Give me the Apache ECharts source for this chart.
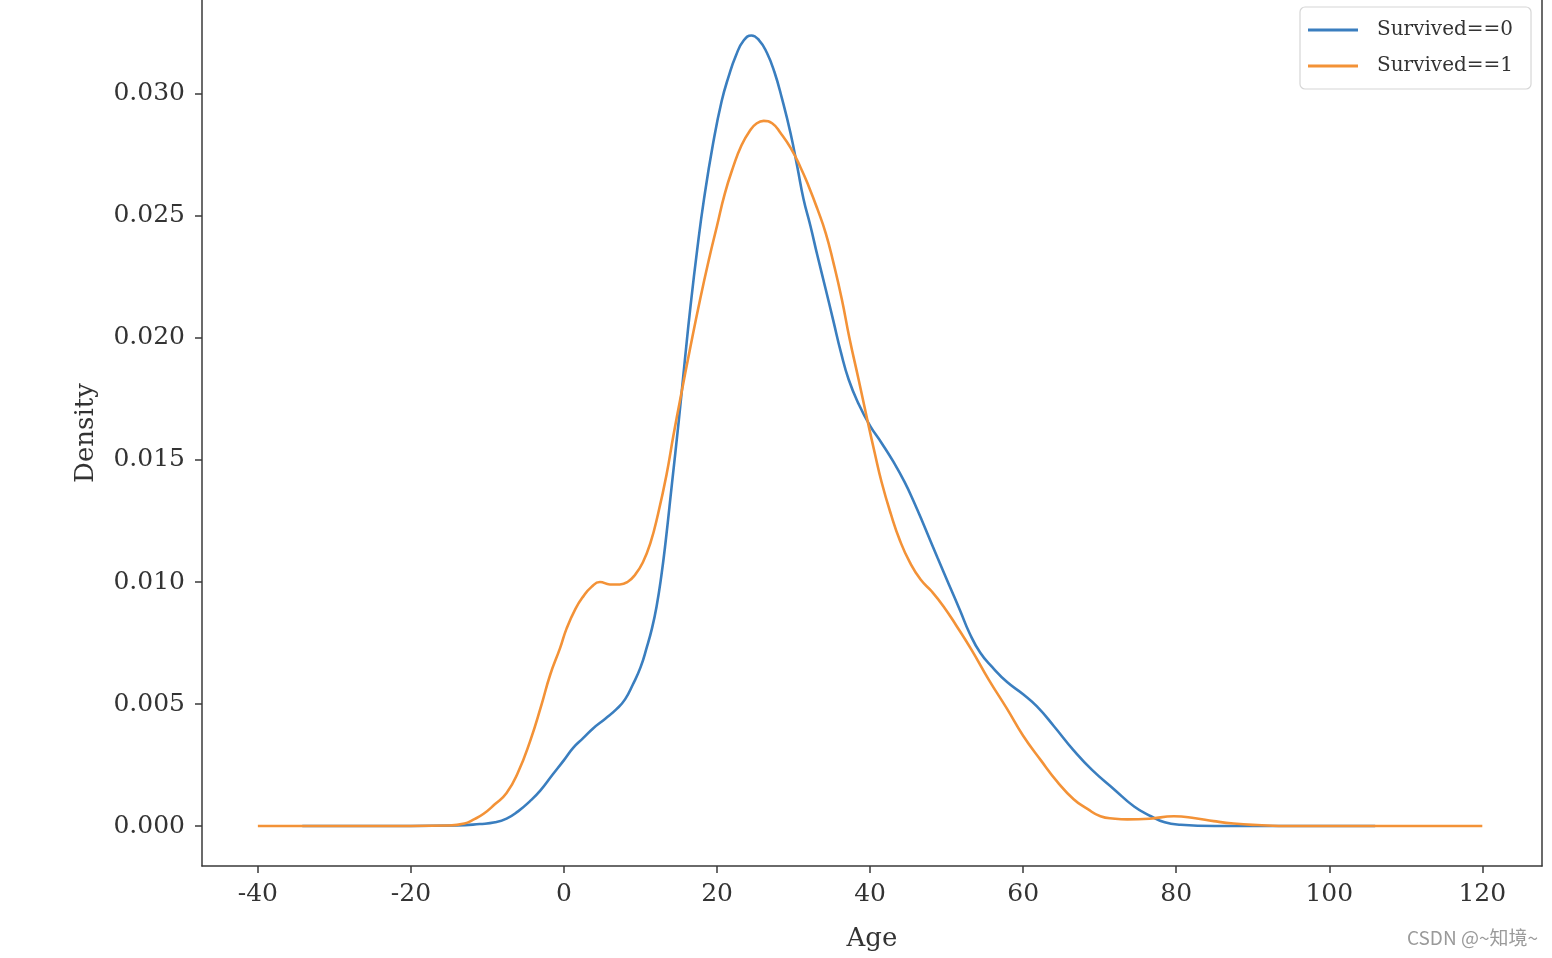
<!DOCTYPE html>
<html>
<head>
<meta charset="utf-8">
<script src="https://cdn.jsdelivr.net/npm/echarts@6/dist/echarts.min.js"></script>
<style>
html,body{margin:0;padding:0;background:#fff;}
#chart{width:1552px;height:958px;}
</style>
</head>
<body>
<div id="chart"></div>
<script>
// ---- data ----
const seriesNames = ['Survived==0', 'Survived==1'];
const xTicks = [-40, -20, 0, 20, 40, 60, 80, 100, 120];
const yTicks = [0, 0.005, 0.010, 0.015, 0.020, 0.025, 0.030];

const ages0 = [-34.2, -20, -14, -11, -9, -7.5, -6, -4.5, -3.1, -1.5, 0, 1.2, 2.5, 3.8, 5.4, 6.9, 8, 9.0, 10, 10.8, 11.5, 12.1, 12.7, 13.3, 14.1, 15.0, 15.8, 16.5, 17.4, 18.3, 19.5, 20.6, 21.5, 22.5, 23.5, 24.5, 25.5, 26.5, 27.5, 28.5, 29.6, 30.5, 31.3, 32.2, 33.1, 34.2, 35.2, 36.2, 37.2, 38.5, 40.0, 41.5, 43.1, 44.5, 45.7, 47.2, 48.8, 50.3, 51.8, 53.0, 54.4, 56.0, 57.9, 60.0, 61.8, 64, 66.6, 69, 71.9, 74.5, 76.7, 78.5, 80.6, 85, 106];
const dens0 = [0, 0, 0.00002, 0.00008, 0.00015, 0.0003, 0.0006, 0.001, 0.00145, 0.0021, 0.0027, 0.0032, 0.0036, 0.0040, 0.0044, 0.0048, 0.0052, 0.0058, 0.0065, 0.0073, 0.0081, 0.0090, 0.0102, 0.0117, 0.0140, 0.0166, 0.0191, 0.0212, 0.0236, 0.0257, 0.0280, 0.0297, 0.0307, 0.0316, 0.0322, 0.0324, 0.0322, 0.0317, 0.0309, 0.0298, 0.0284, 0.0270, 0.0257, 0.0246, 0.0234, 0.0220, 0.0207, 0.0194, 0.0183, 0.0173, 0.0164, 0.0157, 0.0149, 0.0141, 0.0133, 0.0122, 0.0110, 0.0099, 0.0088, 0.0079, 0.0071, 0.0065, 0.0059, 0.0054, 0.0049, 0.0041, 0.0031, 0.0023, 0.0015, 0.0008, 0.0004, 0.00015, 0.00005, 0, 0];

const ages1 = [-40, -20, -15, -13, -11.9, -10.5, -9, -7.5, -6, -4.4, -3, -1.8, -0.5, 0.35, 1.5, 2.5, 3.6, 4.7, 6, 7.3, 8.3, 9.3, 10.3, 11.3, 12.3, 13.4, 14.3, 15.2, 16.5, 17.8, 19, 20.0, 21, 22.1, 23.2, 24.3, 25.2, 26.1, 27.2, 28.3, 29.6, 30.9, 32, 33.1, 34.2, 35.2, 36.3, 37.3, 38.5, 39.6, 40.6, 41.5, 42.7, 43.9, 45.2, 46.6, 48.1, 49.6, 51.3, 53.3, 55.5, 57.9, 60, 62.3, 64.5, 66.6, 68.4, 70.1, 72, 73.6, 76.5, 79.7, 82.5, 84.9, 87.5, 90.6, 95, 120];
const dens1 = [0, 0, 0.00002, 0.0001, 0.00025, 0.0005, 0.0009, 0.00135, 0.0022, 0.0035, 0.0049, 0.0062, 0.0073, 0.0081, 0.0089, 0.0094, 0.0098, 0.0100, 0.0099, 0.0099, 0.0100, 0.0103, 0.0108, 0.0116, 0.0128, 0.0144, 0.0160, 0.0175, 0.0196, 0.0216, 0.0233, 0.0246, 0.0259, 0.0270, 0.0279, 0.0285, 0.0288, 0.0289, 0.0288, 0.0284, 0.0278, 0.0270, 0.0262, 0.0253, 0.0243, 0.0231, 0.0216, 0.0200, 0.0183, 0.0167, 0.0153, 0.0141, 0.0128, 0.0117, 0.0108, 0.0101, 0.0096, 0.0090, 0.0082, 0.0072, 0.0060, 0.0048, 0.0037, 0.0027, 0.0018, 0.0011, 0.0007, 0.0004, 0.0003, 0.00027, 0.0003, 0.0004, 0.00032, 0.0002, 0.0001, 0.00004, 0, 0];

const colors = ['#3a7ebf', '#f39237'];
const serif = '"DejaVu Serif", "Liberation Serif", serif';
const axisColor = '#3a3a3a';

const pairs = (xs, ys) => xs.map((x, i) => [x, ys[i]]);

const chart = echarts.init(document.getElementById('chart'), null, {renderer: 'canvas'});
chart.setOption({
  animation: false,
  backgroundColor: '#fff',
  grid: {left: 202, right: 10, top: 0, bottom: 92, show: false},
  legend: {
    orient: 'vertical',
    left: 1300, top: 7,
    data: seriesNames,
    icon: 'rect',
    itemWidth: 50, itemHeight: 3,
    itemGap: 14,
    padding: [12, 18, 12, 8],
    borderColor: '#d6d6d6', borderWidth: 1.2, borderRadius: 5,
    backgroundColor: '#fff',
    textStyle: {fontFamily: serif, fontSize: 20, color: '#333', padding: [0, 0, 0, 14], lineHeight: 22}
  },
  xAxis: {
    type: 'value',
    min: -47.3, max: 127.8,
    name: 'Age', nameLocation: 'middle', nameGap: 60,
    nameTextStyle: {fontFamily: serif, fontSize: 26, color: '#333'},
    splitLine: {show: false},
    axisLine: {show: true, onZero: false, lineStyle: {color: axisColor, width: 1.5}},
    axisTick: {show: true, customValues: xTicks, length: 7, lineStyle: {color: axisColor, width: 1.5}},
    axisLabel: {customValues: xTicks, fontFamily: serif, fontSize: 25, color: '#333', margin: 16,
      formatter: v => String(v)}
  },
  yAxis: [{
    type: 'value',
    min: -0.001639, max: 0.033852,
    name: 'Density', nameLocation: 'middle', nameGap: 103, nameRotate: 90,
    nameTextStyle: {fontFamily: serif, fontSize: 26, color: '#333'},
    splitLine: {show: false},
    axisLine: {show: true, onZero: false, lineStyle: {color: axisColor, width: 1.5}},
    axisTick: {show: true, customValues: yTicks, length: 7, lineStyle: {color: axisColor, width: 1.5}},
    axisLabel: {customValues: yTicks, fontFamily: serif, fontSize: 25, color: '#333', margin: 17,
      formatter: v => Number(v).toFixed(3)}
  }, {
    type: 'value', position: 'right',
    min: -0.001639, max: 0.033852,
    splitLine: {show: false},
    axisLine: {show: true, onZero: false, lineStyle: {color: axisColor, width: 1.5}},
    axisTick: {show: false}, axisLabel: {show: false}
  }],
  graphic: [{
    type: 'text', right: 14, top: 928,
    style: {text: 'CSDN @~知境~', font: '19px "Noto Sans CJK SC", "DejaVu Sans", sans-serif', fill: '#9a9a9a'}
  }],
  series: [
    {name: seriesNames[0], type: 'line', data: pairs(ages0, dens0), showSymbol: false, symbol: 'none', smooth: 0.5,
     lineStyle: {color: colors[0], width: 2.6}, itemStyle: {color: colors[0]}},
    {name: seriesNames[1], type: 'line', data: pairs(ages1, dens1), showSymbol: false, symbol: 'none', smooth: 0.5,
     lineStyle: {color: colors[1], width: 2.6}, itemStyle: {color: colors[1]}}
  ]
});
</script>
</body>
</html>
